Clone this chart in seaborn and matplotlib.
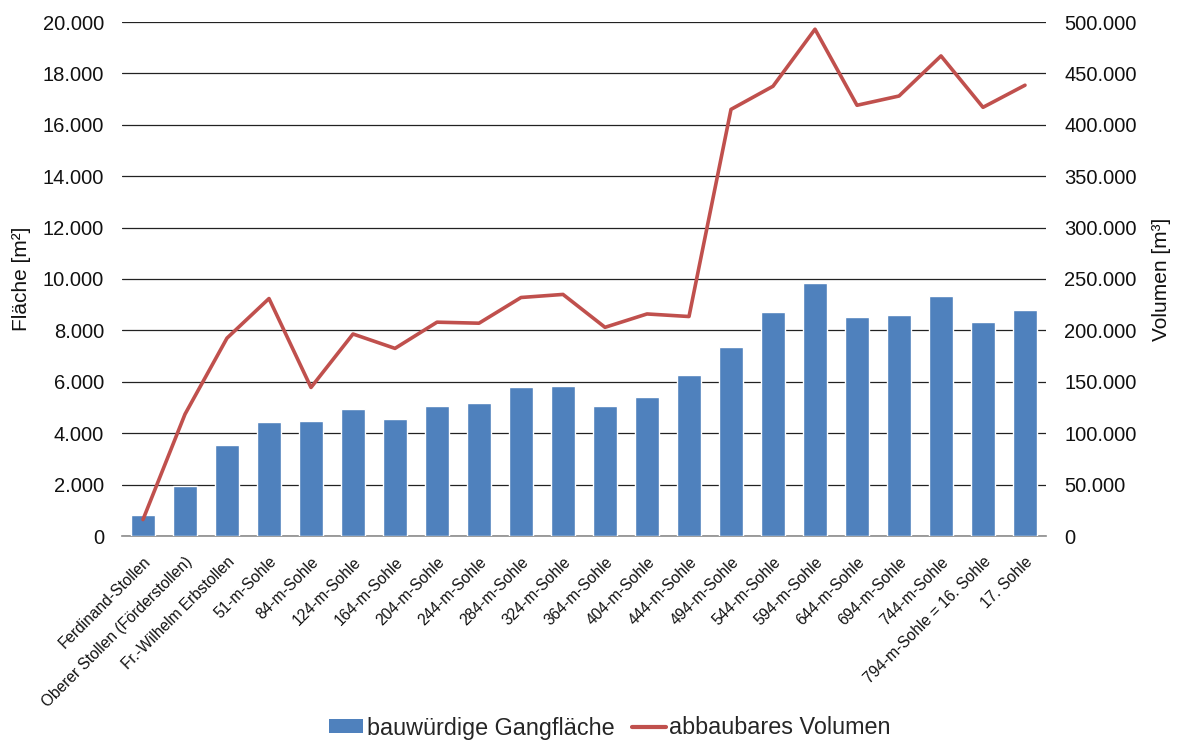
import numpy as np
import pandas as pd
import matplotlib
matplotlib.use("Agg")
import matplotlib.pyplot as plt
from matplotlib.ticker import FuncFormatter, MultipleLocator
from matplotlib.patches import Patch
from matplotlib.lines import Line2D
import seaborn as sns

categories = [
    "Ferdinand-Stollen", "Oberer Stollen (Förderstollen)", "Fr.-Wilhelm Erbstollen",
    "51-m-Sohle", "84-m-Sohle", "124-m-Sohle", "164-m-Sohle", "204-m-Sohle",
    "244-m-Sohle", "284-m-Sohle", "324-m-Sohle", "364-m-Sohle", "404-m-Sohle",
    "444-m-Sohle", "494-m-Sohle", "544-m-Sohle", "594-m-Sohle", "644-m-Sohle",
    "694-m-Sohle", "744-m-Sohle", "794-m-Sohle = 16. Sohle", "17. Sohle",
]
flaeche = [800, 1950, 3540, 4440, 4490, 4930, 4550, 5060, 5170, 5790, 5840, 5060,
           5400, 6270, 7370, 8720, 9830, 8520, 8600, 9340, 8330, 8790]
volumen = [16000, 118500, 192500, 231000, 144500, 196500, 182500, 208000, 207000,
           232000, 235000, 203000, 216000, 213500, 415000, 437500, 493000, 419000,
           428000, 467000, 417000, 438500]

bar_label = "bauwürdige Gangfläche"
line_label = "abbaubares Volumen"
bar_color = "#4F81BD"
line_color = "#C0504D"

sns.set_theme(style="white")
plt.rcParams["font.family"] = ["Liberation Sans", "DejaVu Sans"]

df = pd.DataFrame({"Sohle": categories, "Fläche": flaeche, "Volumen": volumen})

fig = plt.figure(figsize=(11.84, 7.43), dpi=100)
ax = fig.add_axes([122 / 1184, 1 - 536 / 743, (1046 - 122) / 1184, (536 - 22) / 743])

sns.barplot(data=df, x="Sohle", y="Fläche", color=bar_color, saturation=1,
            width=0.55, ax=ax, zorder=3)
ax.set_ylim(0, 20000)
ax.set_xlim(-0.5, len(categories) - 0.5)
ax.yaxis.set_major_locator(MultipleLocator(2000))

def de_fmt(v, pos):
    return f"{int(round(v)):,}".replace(",", ".")

ax.yaxis.set_major_formatter(FuncFormatter(de_fmt))
ax.grid(axis="y", color="#222222", linewidth=0.9, zorder=0)
ax.set_axisbelow(True)
for side in ["left", "right", "top"]:
    ax.spines[side].set_visible(False)
ax.spines["bottom"].set_color("#8c8c8c")
ax.spines["bottom"].set_linewidth(1.2)
ax.tick_params(axis="y", length=0, pad=13, labelsize=14.5, colors="#111111")
ax.tick_params(axis="x", length=0, pad=13, labelsize=11.2, colors="#111111")
plt.setp(ax.get_xticklabels(), rotation=45, ha="right", rotation_mode="anchor")
ax.set_xlabel("")
ax.set_ylabel("Fläche [m²]", fontsize=15, color="#111111", labelpad=8)

ax2 = ax.twinx()
sns.lineplot(data=df, x="Sohle", y="Volumen", color=line_color, linewidth=2.6,
             sort=False, ax=ax2, zorder=4)
ax2.lines[0].set_solid_joinstyle("round")
ax2.set_ylim(0, 500000)
ax2.set_xlim(-0.5, len(categories) - 0.5)
ax2.yaxis.set_major_locator(MultipleLocator(50000))
ax2.yaxis.set_major_formatter(FuncFormatter(de_fmt))
for side in ["left", "right", "top", "bottom"]:
    ax2.spines[side].set_visible(False)
ax2.tick_params(axis="y", length=0, pad=13, labelsize=14.5, colors="#111111")
ax2.set_ylabel("Volumen [m³]", fontsize=15, color="#111111", labelpad=11)
ax2.grid(False)

handles = [Patch(facecolor=bar_color, edgecolor="none"),
           Line2D([0], [0], color=line_color, linewidth=3)]
fig.legend(handles, [bar_label, line_label], loc="center",
           bbox_to_anchor=(610 / 1184, 1 - 728 / 743), ncol=2, frameon=False,
           fontsize=16.8, handlelength=1.45, handleheight=0.55,
           handletextpad=0.15, columnspacing=0.75)

fig.savefig("out.png", dpi=100)
